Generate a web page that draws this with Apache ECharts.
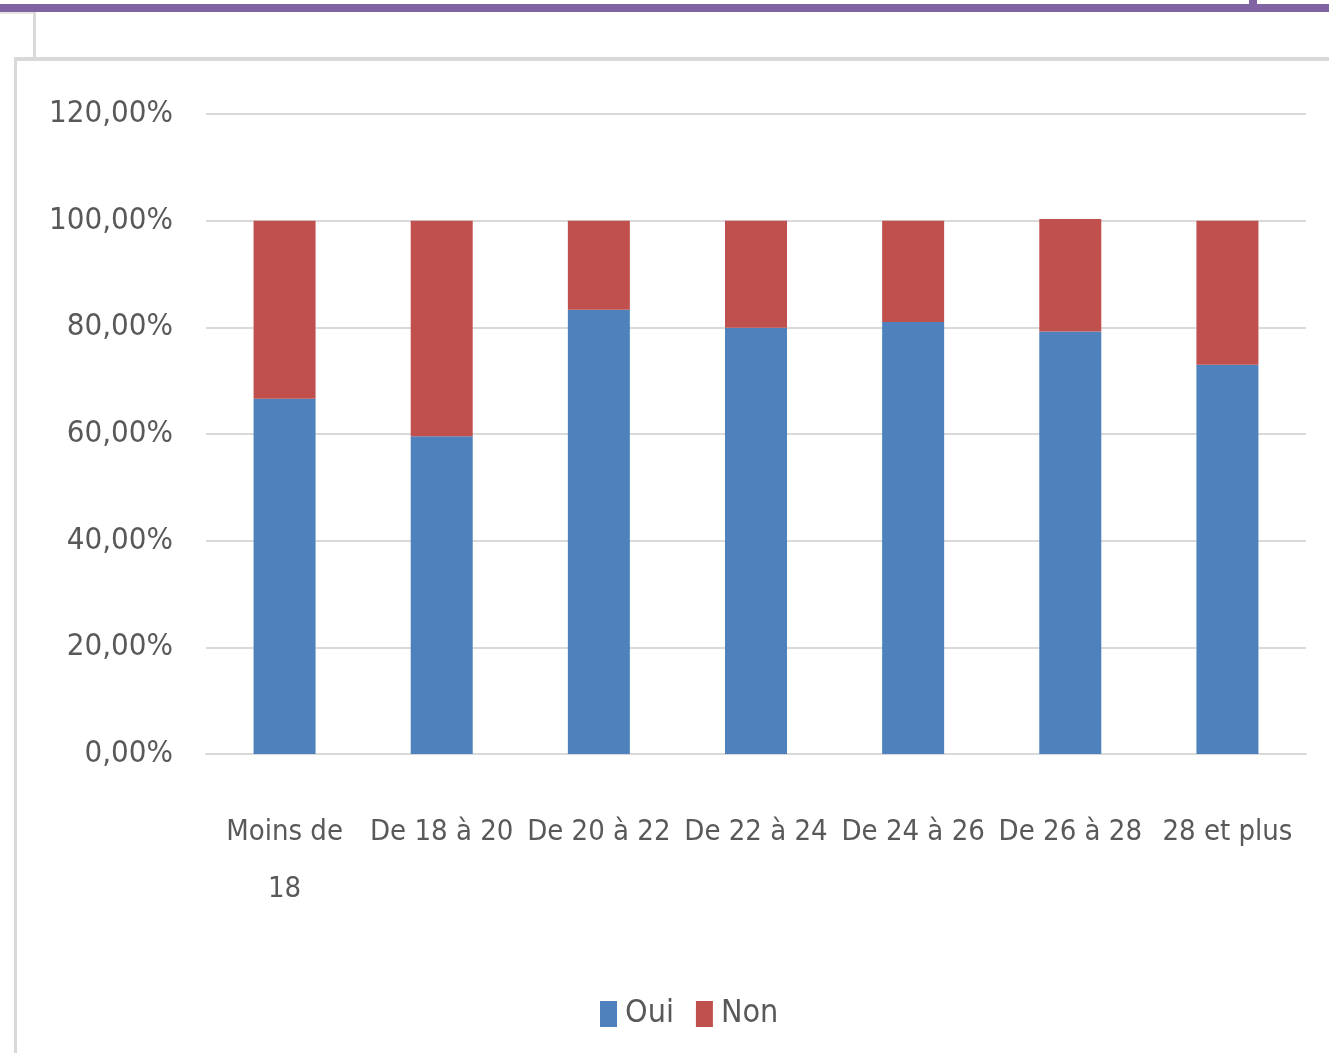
<!DOCTYPE html>
<html>
<head>
<meta charset="utf-8">
<script src="https://cdn.jsdelivr.net/npm/echarts@6/dist/echarts.min.js"></script>
<style>
  html, body { margin: 0; padding: 0; background: #fff; }
  #main { width: 1329px; height: 1053px; }
</style>
</head>
<body>
<div id="main"></div>
<script>
// categories and values (percent)
var categories = ['Moins de 18', 'De 18 à 20', 'De 20 à 22', 'De 22 à 24', 'De 24 à 26', 'De 26 à 28', '28 et plus'];
var oui = [66.6, 59.6, 83.3, 79.9, 81.0, 79.2, 73.0];
var non = [33.4, 40.4, 16.7, 20.1, 19.0, 21.1, 27.0];
var seriesNames = ['Oui', 'Non'];
var yTicks = [0, 20, 40, 60, 80, 100, 120];

var fontName = "'DejaVu Sans Condensed', 'Liberation Sans Narrow', 'Liberation Sans', sans-serif";
var textColor = '#595959';

var myChart = echarts.init(document.getElementById('main'));

var option = {
    backgroundColor: '#ffffff',
    animation: false,
    graphic: [
        // purple band on top
        { type: 'rect', shape: { x: 0, y: 4, width: 1329, height: 8 }, style: { fill: '#8064a2' } },
        { type: 'rect', shape: { x: 1249, y: 0, width: 8, height: 5 }, style: { fill: '#8064a2' } },
        // grey frame lines
        { type: 'rect', shape: { x: 0, y: 12, width: 34, height: 2 }, style: { fill: '#e4e4e4' } },
        { type: 'rect', shape: { x: 33, y: 12, width: 3, height: 47 }, style: { fill: '#d9d9d9' } },
        { type: 'rect', shape: { x: 14, y: 57, width: 1315, height: 4 }, style: { fill: '#d9d9d9' } },
        { type: 'rect', shape: { x: 14, y: 57, width: 3, height: 996 }, style: { fill: '#d9d9d9' } }
    ],
    legend: {
        data: seriesNames,
        left: 595,
        top: 993,
        icon: 'rect',
        itemWidth: 17,
        itemHeight: 26,
        itemGap: 22,
        textStyle: { fontFamily: fontName, fontSize: 32, color: textColor, padding: [0, 0, 0, 3] }
    },
    grid: {
        left: 206,
        right: 23,
        top: 114,
        bottom: 299,
        containLabel: false
    },
    xAxis: {
        type: 'category',
        data: categories,
        axisLine: { lineStyle: { color: '#d9d9d9', width: 2 } },
        axisTick: { show: false },
        axisLabel: {
            margin: 50,
            interval: 0,
            fontFamily: fontName,
            fontSize: 29,
            color: textColor,
            lineHeight: 57,
            hideOverlap: false,
            formatter: function (v) {
                // long labels wrap on their last space, like in the original
                if (v.length > 10) {
                    var i = v.lastIndexOf(' ');
                    return v.slice(0, i) + '\n' + v.slice(i + 1);
                }
                return v;
            }
        }
    },
    yAxis: {
        type: 'value',
        min: 0,
        max: 120,
        interval: 20,
        axisLine: { show: false },
        axisTick: { show: false },
        splitLine: { lineStyle: { color: '#d9d9d9', width: 2 } },
        axisLabel: {
            margin: 33,
            fontFamily: fontName,
            fontSize: 31,
            color: textColor,
            formatter: function (v) {
                return v.toFixed(2).replace('.', ',') + '%';
            }
        }
    },
    series: [
        {
            name: seriesNames[0],
            type: 'bar',
            stack: 'total',
            barWidth: 62,
            itemStyle: { color: '#4f81bd' },
            data: oui
        },
        {
            name: seriesNames[1],
            type: 'bar',
            stack: 'total',
            barWidth: 62,
            itemStyle: { color: '#c0504d' },
            data: non
        }
    ]
};

myChart.setOption(option);

window.onresize = function () {
    myChart.resize();
};
</script>
</body>
</html>
